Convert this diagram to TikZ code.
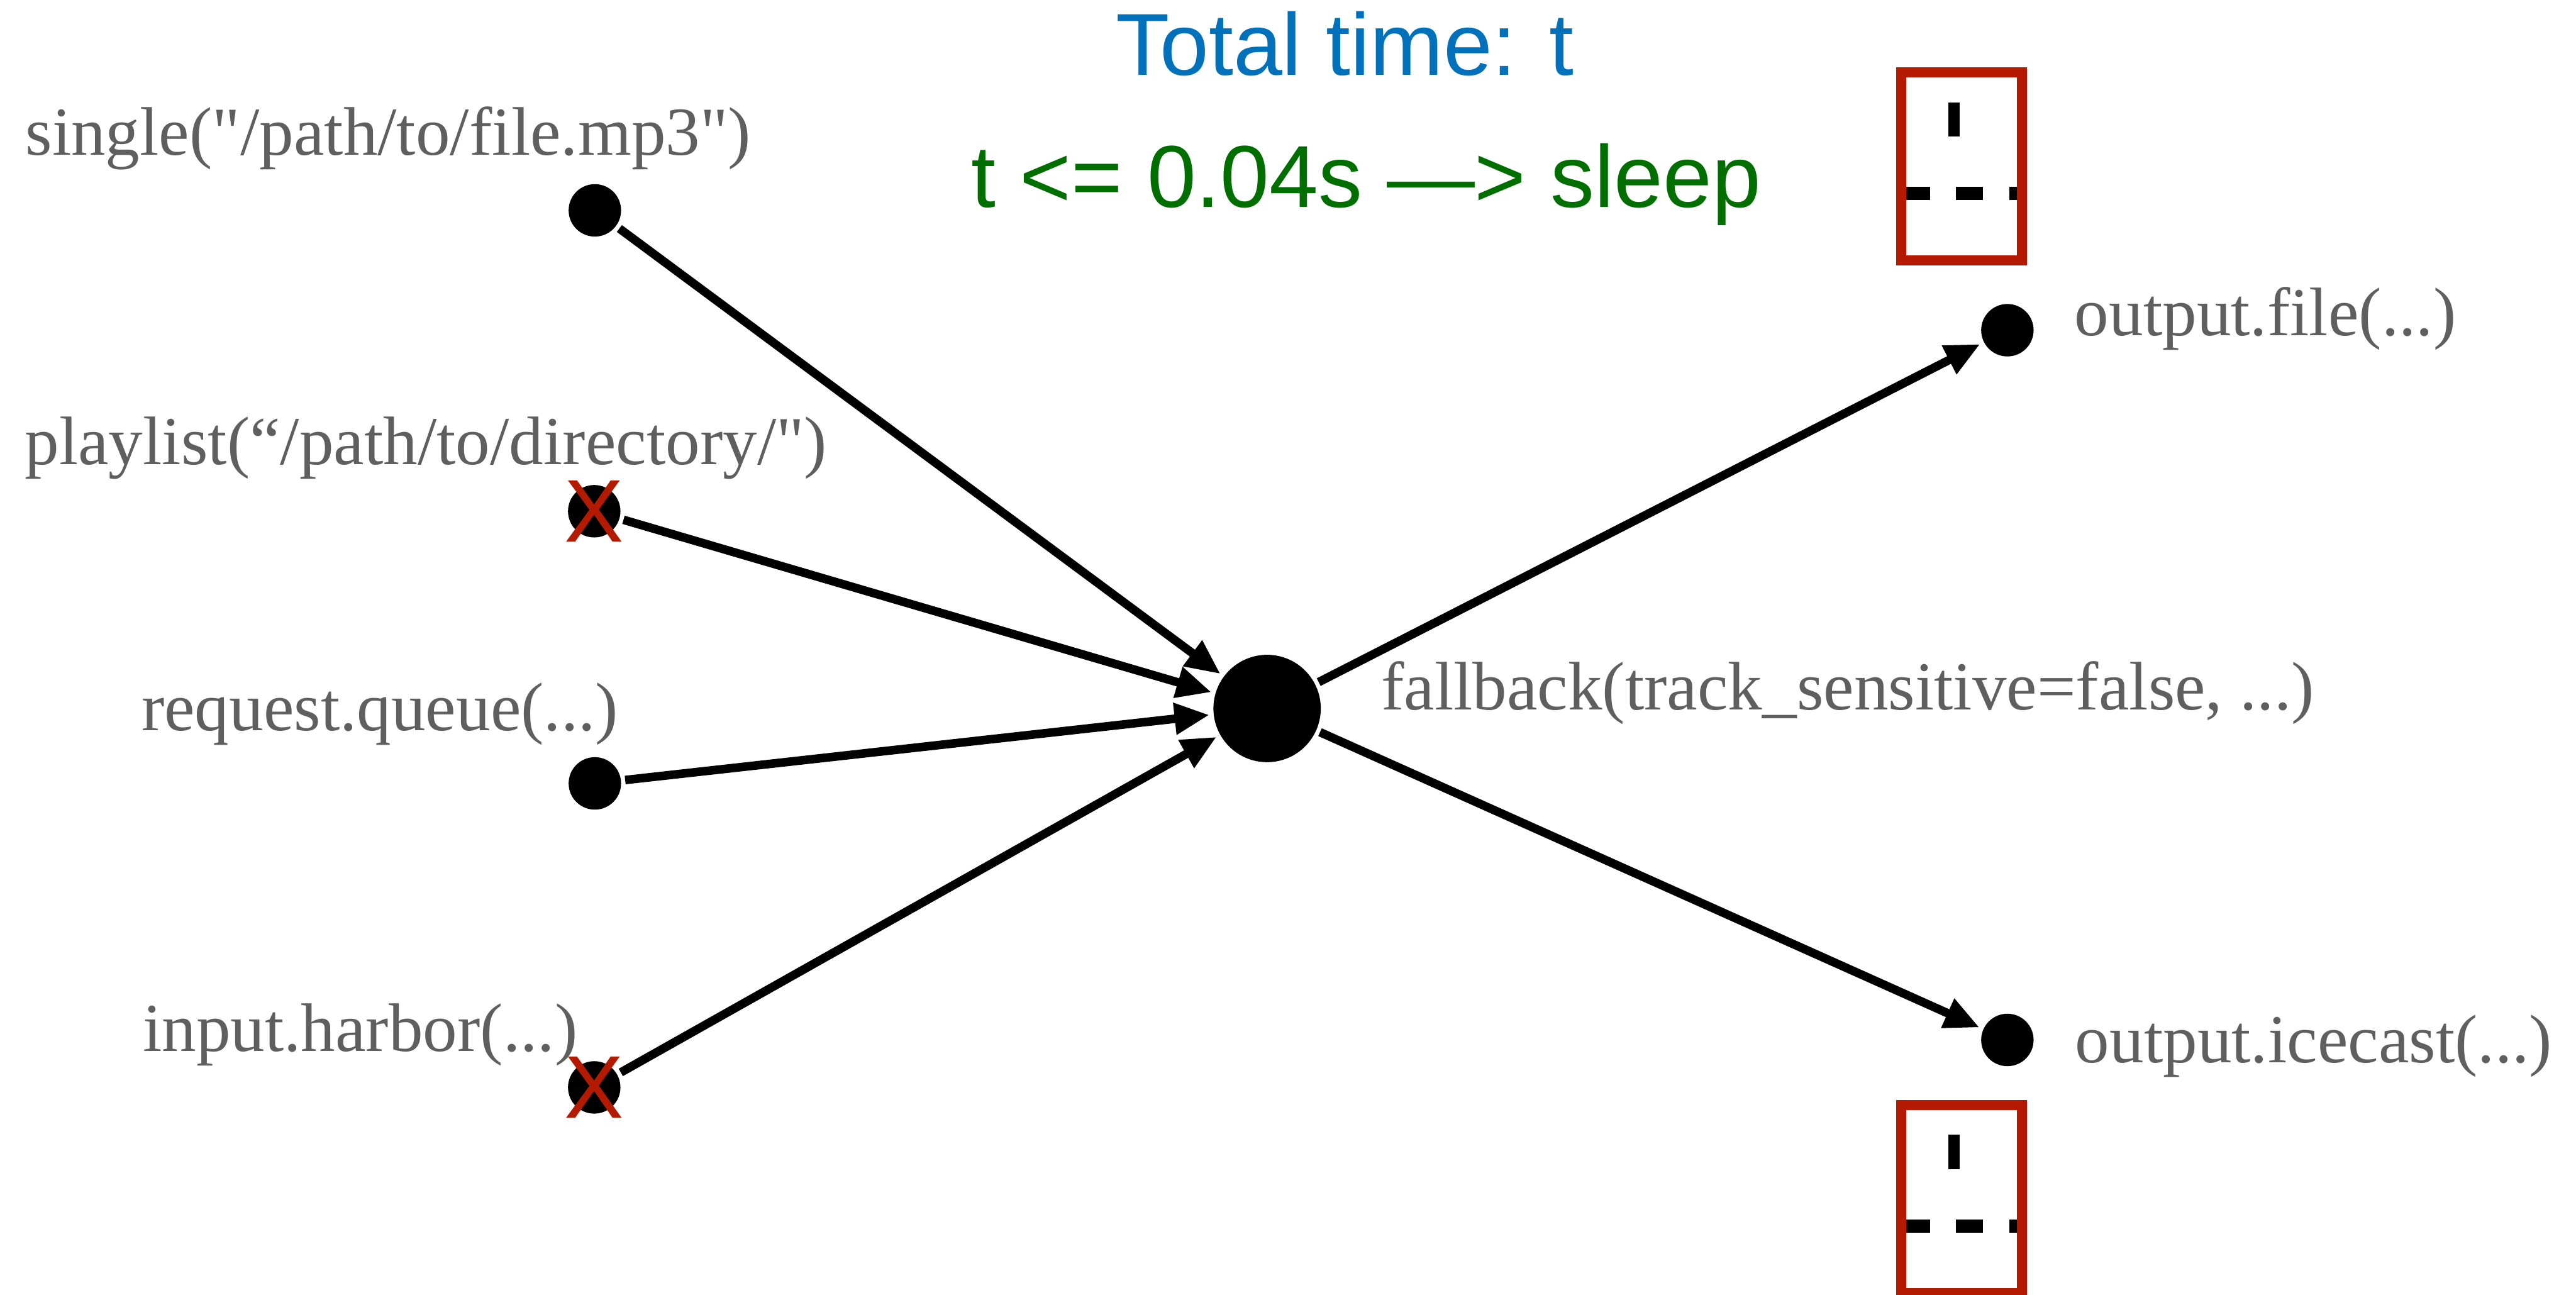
\documentclass[tikz,border=0pt]{standalone}
\usepackage{fontspec}
\setmainfont{Liberation Serif}[Ligatures=TeXOff]
\newfontfamily\helv{Liberation Sans}
\usetikzlibrary{arrows.meta}

\definecolor{labelgray}{HTML}{5F5F5F}
\definecolor{timeblue}{HTML}{0071BA}
\definecolor{sleepgreen}{HTML}{006F00}
\definecolor{stopred}{HTML}{B41A00}

\begin{document}
\begin{tikzpicture}[line width=3.9pt,
	small node/.style={circle,fill=black,inner sep=0pt,minimum size=0.84cm},
	big node/.style={circle,fill=black,inner sep=0pt,minimum size=1.72cm},
	label node/.style={anchor=base west,inner sep=0pt,text=labelgray,font=\fontsize{31.3}{36}\selectfont},
	title node/.style={anchor=base west,inner sep=0pt,font=\helv\fontsize{40.1}{48}\selectfont},
	x mark/.style={inner sep=0pt,text=stopred,font=\helv\fontsize{40.5}{48}\selectfont},
	every edge/.style={draw,-{Triangle[length=0.56cm,width=0.48cm]}}]
	\useasboundingbox (0,0) rectangle (41.27,20.74);
	
	\node[big node] (c) at (20.30,9.39) {};
	\node[small node] (1) at (9.53,17.37) {};
	\node[small node] (2) at (9.52,12.55) {};
	\node[small node] (3) at (9.53,8.19) {};
	\node[small node] (4) at (9.52,3.32) {};
	\node[small node] (5) at (32.16,15.45) {};
	\node[small node] (6) at (32.16,4.08) {};
	
	\path
	(1) edge (c)
	(2) edge (c)
	(3) edge (c)
	(4) edge (c)
	(c) edge (5)
	edge (6);
	
	% sources that are down
	\node[x mark] (x2) at (2) {X};
	\node[x mark] (x4) at (4) {X};
	
	\node[label node] (l1) at (0.34,18.26) {single("/path/to/file.mp3")};
	\node[label node] (l2) at (0.33,13.30) {playlist(“/path/to/directory/")};
	\node[label node] (l3) at (2.20,9.04) {request.queue(...)};
	\node[label node] (l4) at (2.22,3.90) {input.harbor(...)};
	\node[label node] (lc) at (22.06,9.37) {fallback(track\_sensitive=false, ...)};
	\node[label node] (l5) at (33.17,15.36) {output.file(...)};
	\node[label node] (l6) at (33.18,3.72) {output.icecast(...)};
	
	\node[title node,text=timeblue] (total) at (17.81,19.54) {Total time: t};
	\node[title node,text=sleepgreen] (sleep) at (15.49,17.42) {t <= 0.04s —> sleep};
	
	% clock boxes on the outputs
	\draw[line width=0.19cm] (31.305,19.10) -- (31.305,18.55);
	\draw[line width=0.21cm,dash pattern=on 0.43cm off 0.42cm] (30.49,17.64) -- (32.45,17.64);
	\draw[stopred,line width=0.16cm] (30.46,19.58) rectangle (32.39,16.57);
	
	\draw[line width=0.19cm] (31.305,2.56) -- (31.305,2.01);
	\draw[line width=0.21cm,dash pattern=on 0.43cm off 0.42cm] (30.49,1.10) -- (32.45,1.10);
	\draw[stopred,line width=0.16cm] (30.46,3.04) rectangle (32.39,0.03);
\end{tikzpicture}
\end{document}
